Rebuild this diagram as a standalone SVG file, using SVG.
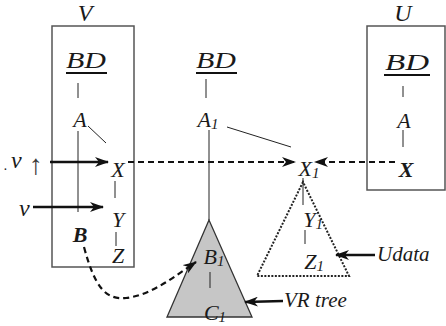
<svg xmlns="http://www.w3.org/2000/svg" width="446" height="326" viewBox="0 0 446 326">
<style>
text{font-family:"Liberation Serif","Times New Roman","DejaVu Serif",serif;font-style:italic;fill:#1a1a1a}
.n{font-size:22px;text-anchor:middle}
.cal{font-size:24px;text-anchor:middle}
.b{font-weight:bold}
.sub{font-size:15px}
.box{fill:none;stroke:#555;stroke-width:1.5}
.ln{stroke:#222;stroke-width:1;fill:none}
.ul{stroke:#111;stroke-width:2}
.arr{stroke:#111;stroke-width:2.6;fill:none;marker-end:url(#ah)}
.dash{stroke:#111;stroke-width:2.2;fill:none;stroke-dasharray:6 4;marker-end:url(#ah)}
</style>
<defs>
<marker id="ah" markerUnits="userSpaceOnUse" markerWidth="14" markerHeight="10" refX="13" refY="5" orient="auto" viewBox="0 0 14 10">
<path d="M0,0 L14,5 L0,10 L4,5 z" fill="#111"/>
</marker>
</defs>

<g id="boxV">
<rect class="box" x="52" y="26" width="82" height="241"/>
<text class="cal" x="85" y="21">V</text>
</g>
<g id="boxU">
<rect class="box" x="367" y="26" width="78" height="164"/>
<text class="cal" x="403" y="21">U</text>
</g>

<g id="vBD"><text class="cal" x="86" y="68" textLength="40" lengthAdjust="spacingAndGlyphs">BD</text><line class="ul" x1="66" y1="73" x2="107" y2="73"/></g>
<g id="vA"><text class="n" x="80" y="127">A</text></g>
<g id="vX"><text class="n" x="118" y="177">X</text></g>
<g id="vY"><text class="n" x="118" y="227">Y</text></g>
<g id="vZ"><text class="n" x="118" y="263">Z</text></g>
<g id="vB"><text class="n b" x="80" y="242">B</text></g>

<g id="mBD"><text class="cal" x="216" y="68" textLength="40" lengthAdjust="spacingAndGlyphs">BD</text><line class="ul" x1="196" y1="73" x2="237" y2="73"/></g>
<g id="mA1"><text class="n" x="208" y="127">A<tspan class="sub" dy="2">1</tspan></text></g>
<g id="mX1"><text class="n" x="309" y="176">X<tspan class="sub" dy="2">1</tspan></text></g>
<g id="mY1"><text class="n" x="313" y="227">Y<tspan class="sub" dy="2">1</tspan></text></g>
<g id="mZ1"><text class="n" x="314" y="269">Z<tspan class="sub" dy="2">1</tspan></text></g>

<g id="uBD"><text class="cal" x="407" y="70" textLength="44" lengthAdjust="spacingAndGlyphs">BD</text><line class="ul" x1="384" y1="75" x2="430" y2="75"/></g>
<g id="uA"><text class="n" x="404" y="128">A</text></g>
<g id="uX"><text class="n b" x="406" y="177">X</text></g>

<g id="vrTree">
<polygon points="209,220 167,317 252,317" fill="#c6c6c6" stroke="#333" stroke-width="1.3"/>
<text class="n" x="214" y="264">B<tspan class="sub" dy="2">1</tspan></text>
<line class="ln" x1="210" y1="272" x2="210" y2="288"/>
<text class="n" x="215" y="320">C<tspan class="sub" dy="2">1</tspan></text>
</g>
<g id="udata">
<polygon points="303,182 257,276 349,276" fill="none" stroke="#222" stroke-width="2" stroke-dasharray="2 1.5"/>
</g>

<g id="labels">
<text x="4" y="170" style="font-size:14px">.</text>
<text x="11" y="168" style="font-size:24px">ν</text>
<text x="29" y="174" style="font-size:28px;font-style:normal;fill:#3a3a3a">↑</text>
<text x="19" y="216" style="font-size:24px">ν</text>
<text x="377" y="261" style="font-size:21px">Udata</text>
<text x="284" y="307" style="font-size:21px">VR tree</text>
</g>

<g id="connectors">
<line class="ln" x1="78" y1="83" x2="78" y2="98"/>
<line class="ln" x1="78" y1="131" x2="78" y2="212"/>
<line class="ln" x1="88" y1="126" x2="106" y2="143"/>
<line class="ln" x1="115" y1="181" x2="115" y2="198"/>
<line class="ln" x1="116" y1="232" x2="116" y2="246"/>
<line class="ln" x1="206" y1="79" x2="206" y2="98"/>
<line class="ln" x1="209" y1="130" x2="209" y2="220"/>
<line class="ln" x1="227" y1="127" x2="291" y2="147"/>
<line class="ln" x1="403" y1="86" x2="403" y2="97"/>
<line class="ln" x1="403" y1="130" x2="403" y2="147"/>
<line class="ln" x1="303" y1="178" x2="303" y2="205"/>
<line class="ln" x1="305" y1="230" x2="305" y2="244"/>
<line class="arr" x1="50" y1="162" x2="108" y2="162"/>
<line class="arr" x1="33" y1="207" x2="103" y2="207"/>
<line class="dash" x1="128" y1="162" x2="295" y2="162"/>
<line class="dash" x1="395" y1="162" x2="315" y2="162"/>
<path class="dash" d="M84,247 C95,288 106,300 126,298 C152,295 175,276 196,262"/>
<line class="arr" x1="375" y1="255" x2="336" y2="255"/>
<line class="arr" x1="283" y1="301" x2="245" y2="302"/>
</g>
</svg>
